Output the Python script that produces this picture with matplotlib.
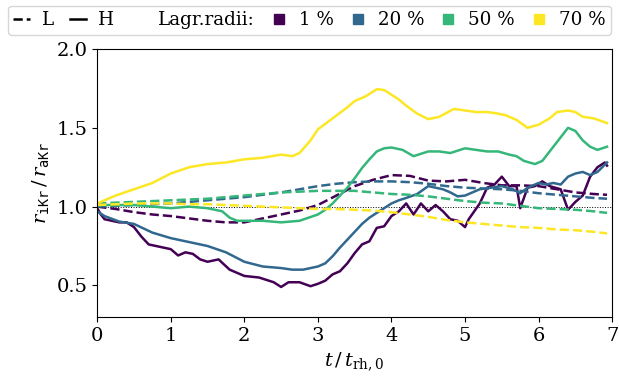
import matplotlib
matplotlib.use('Agg')
import matplotlib.pyplot as plt
from matplotlib.lines import Line2D

plt.rcParams['font.family'] = 'DejaVu Serif'
plt.rcParams['mathtext.fontset'] = 'dejavuserif'
plt.rcParams['font.size'] = 14

# Lagrangian radii, run L (dashed)
t_L = [0, 0.25, 0.5, 0.75, 1.0, 1.25, 1.5, 1.75, 2.0, 2.25, 2.5, 2.75, 3.0, 3.25, 3.5,
       3.75, 4.0, 4.25, 4.5, 4.75, 5.0, 5.25, 5.5, 5.75, 6.0, 6.25, 6.5, 6.75, 6.93]
L_01 = [1.00, 0.985, 0.965, 0.95, 0.94, 0.925, 0.91, 0.90, 0.90, 0.925, 0.95, 0.975, 1.01, 1.07, 1.13,
        1.17, 1.20, 1.195, 1.165, 1.16, 1.17, 1.15, 1.135, 1.135, 1.13, 1.11, 1.09, 1.08, 1.075]
L_20 = [1.00, 1.005, 1.01, 1.015, 1.02, 1.03, 1.04, 1.05, 1.06, 1.075, 1.09, 1.11, 1.13, 1.145, 1.155,
        1.16, 1.16, 1.155, 1.145, 1.13, 1.12, 1.115, 1.11, 1.10, 1.085, 1.075, 1.065, 1.055, 1.05]
L_50 = [1.02, 1.025, 1.03, 1.035, 1.04, 1.045, 1.05, 1.06, 1.07, 1.08, 1.09, 1.095, 1.10, 1.10, 1.10,
        1.09, 1.08, 1.075, 1.065, 1.05, 1.035, 1.025, 1.02, 1.005, 0.99, 0.985, 0.98, 0.97, 0.96]
L_70 = [1.01, 1.015, 1.02, 1.02, 1.02, 1.015, 1.015, 1.01, 1.005, 1.0, 0.995, 0.99, 0.985, 0.985, 0.98,
        0.975, 0.965, 0.95, 0.935, 0.915, 0.90, 0.89, 0.88, 0.87, 0.865, 0.855, 0.85, 0.84, 0.83]

# run H (solid)
t_H01 = [0, 0.05, 0.1, 0.2, 0.3, 0.4, 0.5, 0.6, 0.7, 0.8, 0.9, 1.0, 1.1, 1.2, 1.3, 1.4, 1.5, 1.65,
         1.8, 1.9, 2.0, 2.2, 2.4, 2.5, 2.6, 2.75, 2.9, 3.0, 3.1, 3.2, 3.3, 3.4, 3.5, 3.6, 3.7, 3.8,
         3.9, 4.0, 4.1, 4.2, 4.3, 4.4, 4.5, 4.6, 4.7, 4.8, 4.9, 5.0, 5.05, 5.2, 5.3, 5.4, 5.5, 5.6,
         5.7, 5.75, 5.85, 5.95, 6.05, 6.15, 6.3, 6.4, 6.5, 6.6, 6.7, 6.8, 6.9, 6.93]
H_01 = [0.99, 0.95, 0.92, 0.91, 0.90, 0.90, 0.87, 0.81, 0.76, 0.75, 0.74, 0.73, 0.69, 0.71, 0.70, 0.665, 0.65, 0.665,
        0.60, 0.58, 0.56, 0.55, 0.52, 0.49, 0.52, 0.52, 0.495, 0.51, 0.53, 0.57, 0.59, 0.64, 0.705, 0.76, 0.78, 0.865,
        0.875, 0.94, 0.97, 1.02, 0.95, 1.02, 0.97, 1.01, 0.97, 0.92, 0.91, 0.87, 0.92, 1.02, 1.12, 1.14, 1.19, 1.13,
        1.13, 0.99, 1.12, 1.13, 1.16, 1.13, 1.11, 0.98, 1.03, 1.07, 1.19, 1.25, 1.28, 1.26]

t_H20 = [0, 0.1, 0.3, 0.5, 0.75, 1.0, 1.25, 1.5, 1.75, 2.0, 2.25, 2.5, 2.65, 2.8, 3.0, 3.1, 3.2, 3.3,
         3.4, 3.5, 3.6, 3.7, 3.8, 3.9, 4.0, 4.1, 4.2, 4.35, 4.5, 4.6, 4.7, 4.8, 4.9, 5.0, 5.1, 5.2,
         5.35, 5.5, 5.65, 5.75, 5.85, 6.0, 6.1, 6.2, 6.3, 6.4, 6.5, 6.6, 6.7, 6.8, 6.93]
H_20 = [0.97, 0.94, 0.905, 0.89, 0.835, 0.80, 0.775, 0.75, 0.71, 0.65, 0.62, 0.61, 0.60, 0.60, 0.62, 0.64, 0.685, 0.74,
        0.79, 0.84, 0.89, 0.93, 0.96, 0.99, 1.02, 1.04, 1.055, 1.08, 1.13, 1.12, 1.11, 1.09, 1.065, 1.07, 1.09, 1.11,
        1.12, 1.13, 1.11, 1.085, 1.12, 1.15, 1.14, 1.15, 1.14, 1.19, 1.21, 1.22, 1.20, 1.22, 1.28]

t_H50 = [0, 0.25, 0.5, 0.75, 1.0, 1.25, 1.5, 1.7, 1.8, 1.9, 2.0, 2.25, 2.5, 2.75, 3.0, 3.1, 3.2, 3.3,
         3.4, 3.5, 3.6, 3.7, 3.8, 3.9, 4.0, 4.15, 4.3, 4.5, 4.65, 4.8, 5.0, 5.15, 5.3, 5.45, 5.6, 5.7,
         5.8, 5.95, 6.05, 6.2, 6.3, 6.4, 6.5, 6.6, 6.7, 6.8, 6.93]
H_50 = [1.01, 1.01, 1.01, 1.0, 0.99, 1.0, 0.99, 0.97, 0.93, 0.91, 0.91, 0.91, 0.90, 0.91, 0.95, 0.98, 1.02, 1.07,
        1.12, 1.18, 1.245, 1.30, 1.35, 1.37, 1.375, 1.36, 1.32, 1.35, 1.35, 1.34, 1.37, 1.36, 1.35, 1.35, 1.33, 1.32,
        1.29, 1.27, 1.29, 1.38, 1.44, 1.50, 1.48, 1.42, 1.38, 1.36, 1.38]

t_H70 = [0, 0.1, 0.25, 0.5, 0.75, 1.0, 1.25, 1.5, 1.75, 2.0, 2.25, 2.5, 2.65, 2.75, 2.9, 3.0, 3.2, 3.4,
         3.5, 3.65, 3.8, 3.9, 4.0, 4.1, 4.2, 4.35, 4.5, 4.65, 4.85, 5.0, 5.15, 5.3, 5.45, 5.55, 5.7, 5.85,
         6.0, 6.15, 6.25, 6.4, 6.5, 6.6, 6.75, 6.9, 6.93]
H_70 = [1.02, 1.04, 1.07, 1.11, 1.15, 1.21, 1.25, 1.27, 1.28, 1.30, 1.31, 1.33, 1.32, 1.34, 1.42, 1.49, 1.56, 1.63,
        1.67, 1.70, 1.745, 1.74, 1.71, 1.68, 1.64, 1.59, 1.555, 1.57, 1.62, 1.61, 1.60, 1.60, 1.59, 1.58, 1.55, 1.50,
        1.52, 1.56, 1.60, 1.61, 1.60, 1.57, 1.56, 1.535, 1.53]

labels = ['1 %', '20 %', '50 %', '70 %']
colors = ['#440154', '#31688e', '#35b779', '#fde725']

fig = plt.figure(figsize=(6.19, 3.8), dpi=100)
ax = fig.add_axes([0.157, 0.166, 0.832, 0.705])

ax.axhline(1.0, color='k', ls=':', lw=0.7)

runs_L = [L_01, L_20, L_50, L_70]
runs_H = [(t_H01, H_01), (t_H20, H_20), (t_H50, H_50), (t_H70, H_70)]
for c, yl, (th, yh) in zip(colors, runs_L, runs_H):
    ax.plot(t_L, yl, color=c, ls='--', lw=1.8)
    ax.plot(th, yh, color=c, ls='-', lw=1.8)

ax.set_xlim(0, 7)
ax.set_ylim(0.3, 2.0)
ax.set_yticks([0.5, 1.0, 1.5, 2.0])
ax.set_xlabel(r'$t\,/\,t_\mathrm{rh,0}$')
ax.set_ylabel(r'$r_\mathtt{iKr}\,/\,r_\mathtt{aKr}$')

# legend: line style = run, colour = Lagrangian radius
handles = [Line2D([], [], color='k', ls='--', lw=1.8),
           Line2D([], [], color='k', ls='-', lw=1.8),
           Line2D([], [], color='none')]
names = ['L', 'H', 'Lagr.radii:']
for c, lab in zip(colors, labels):
    handles.append(Line2D([], [], color=c, marker='s', ls='none', markersize=7))
    names.append(lab)
fig.legend(handles, names, loc='upper center', bbox_to_anchor=(0.5, 0.995), ncol=7,
           fontsize=13.2, handlelength=0.9, handletextpad=0.65, columnspacing=0.85, borderpad=0.3,
           borderaxespad=0.2)

fig.savefig('out.png', dpi=100)
